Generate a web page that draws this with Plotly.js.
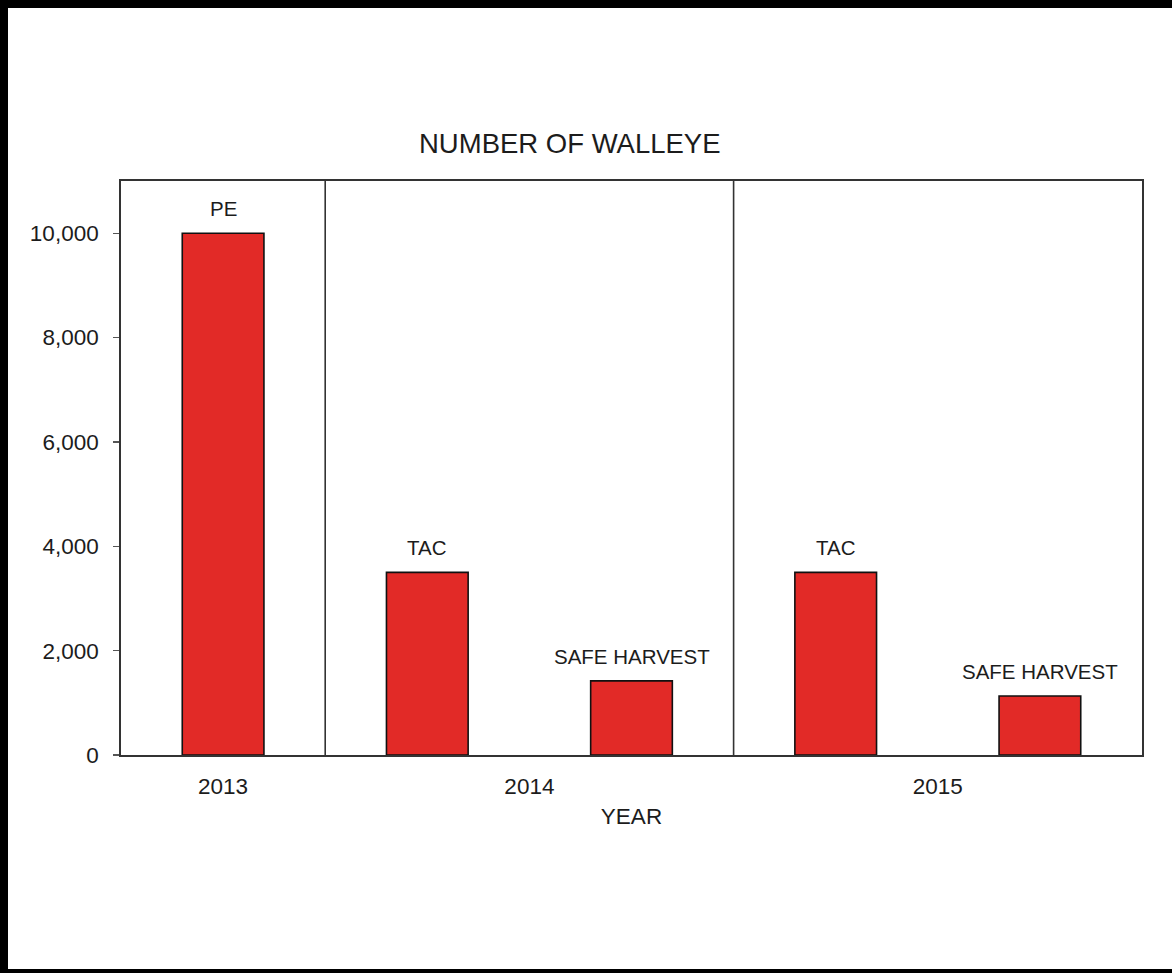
<!DOCTYPE html>
<html>
<head>
<meta charset="utf-8">
<script src="https://cdn.plot.ly/plotly-3.0.1.min.js"></script>
<style>
  html, body { margin: 0; padding: 0; background: #ffffff; }
  #frame { position: absolute; left: 0; top: 0; width: 1172px; height: 973px; box-sizing: border-box;
           border-left: 8px solid #000; border-top: 8px solid #000; border-bottom: 4px solid #000; }
  #chart { position: absolute; left: 0; top: 0; width: 1172px; height: 973px; }
</style>
</head>
<body>
<div id="chart"></div>
<div id="frame"></div>
<script>
// ---- data ----
const barLabels = ["PE", "TAC", "SAFE HARVEST", "TAC", "SAFE HARVEST"];
const barYears  = ["2013", "2014", "2014", "2015", "2015"];
const barValues = [10000, 3500, 1420, 3500, 1130];
const yearLabels = ["2013", "2014", "2015"];
const yTickVals = [0, 2000, 4000, 6000, 8000, 10000];
const yTickText = ["0", "2,000", "4,000", "6,000", "8,000", "10,000"];

// ---- derived ----
const xPos = barLabels.map((_, i) => i);
// year label positions: centre of each year's bars, except single-bar years
const yearPos = yearLabels.map(y => {
  const idx = xPos.filter(i => barYears[i] === y);
  return idx.length === 1 ? idx[0] : (idx[0] + idx[idx.length - 1]) / 2;
});
// dividers between year groups
const dividers = [];
for (let i = 1; i < barYears.length; i++) {
  if (barYears[i] !== barYears[i - 1]) dividers.push(i - 0.5);
}

const font = "Liberation Sans, Arial, sans-serif";
const txt = "#1c1c1c";

const trace = {
  type: "bar",
  x: xPos,
  y: barValues,
  width: 0.4,
  marker: { color: "#e22a27", line: { color: "#111111", width: 1.6 } },
  hoverinfo: "skip",
  showlegend: false
};

const shapes = dividers.map(d => ({
  type: "line", xref: "x", yref: "paper", x0: d, x1: d, y0: 0, y1: 1,
  line: { color: "#333333", width: 1.6 }
}));

const annotations = xPos.map(i => ({
  x: i, y: barValues[i], xref: "x", yref: "y",
  text: barLabels[i], showarrow: false, yanchor: "bottom", yshift: 11,
  font: { family: font, size: 20.5, color: txt }
}));
annotations.push({
  xref: "paper", yref: "paper", x: 0.44, y: 1, yshift: 38, yanchor: "middle",
  text: "NUMBER OF WALLEYE", showarrow: false,
  font: { family: font, size: 27.5, color: txt }
});

const layout = {
  width: 1172, height: 973,
  margin: { l: 121, r: 30, t: 181, b: 218 },
  paper_bgcolor: "rgba(0,0,0,0)",
  plot_bgcolor: "#ffffff",
  font: { family: font, color: txt },
  bargap: 0,
  xaxis: {
    range: [-0.5, 4.5],
    tickvals: yearPos, ticktext: yearLabels,
    ticks: "", showgrid: false, zeroline: false,
    showline: true, mirror: true, linecolor: "#333333", linewidth: 1.8,
    tickfont: { family: font, size: 22.5, color: txt },
    ticklabelstandoff: 10,
    title: { text: "YEAR", font: { family: font, size: 22.5, color: txt }, standoff: 10 }
  },
  yaxis: {
    range: [0, 11000],
    tickvals: yTickVals, ticktext: yTickText,
    ticks: "outside", ticklen: 6, tickcolor: "#555555", tickwidth: 1.2,
    showgrid: false, zeroline: false,
    showline: true, mirror: true, linecolor: "#333333", linewidth: 1.8,
    tickfont: { family: font, size: 22.5, color: txt },
    ticklabelstandoff: 10
  },
  shapes: shapes,
  annotations: annotations
};

Plotly.newPlot("chart", [trace], layout, { staticPlot: true, displayModeBar: false });
</script>
</body>
</html>
